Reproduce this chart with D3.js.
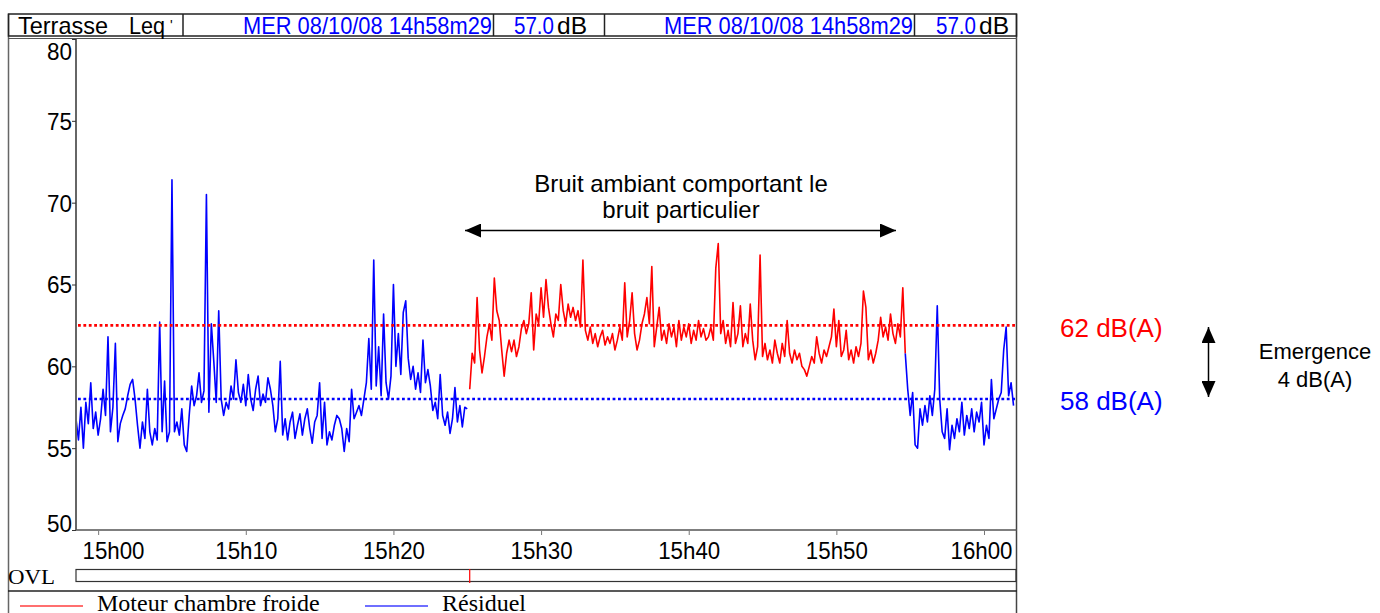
<!DOCTYPE html>
<html><head><meta charset="utf-8">
<script src="https://cdn.jsdelivr.net/npm/d3@7"></script>
<style>body{margin:0;background:#fff;overflow:hidden}</style>
</head><body>
<svg id="c" width="1380" height="613"></svg>
<script>
// ---------------- DATA (10 s sampling) ----------------
const residuel1 = [
56.8,55.5,57.5,55.0,57.8,56.5,59.0,56.2,57.2,55.8,
56.8,58.6,57.0,61.8,56.0,57.5,61.4,55.4,56.5,57.0,
57.4,58.2,58.9,59.2,58.0,56.4,55.0,56.6,55.6,58.6,
56.0,55.2,56.2,55.5,62.7,56.0,59.1,55.4,56.0,71.4,
56.0,56.6,55.8,57.4,55.2,54.8,57.0,58.8,57.6,58.2,
59.6,57.8,58.5,70.5,57.2,62.6,60.3,57.8,63.4,58.0,
57.0,57.8,57.4,58.8,58.0,60.4,58.4,57.8,58.9,57.6,
59.5,58.0,57.3,58.6,59.4,57.6,58.3,57.8,59.3,58.6,
57.6,56.0,56.8,60.3,55.8,56.8,55.5,56.6,57.2,55.6,
56.4,57.1,55.8,56.8,57.4,56.2,55.3,56.6,57.0,59.0,
55.6,57.8,55.2,56.0,55.5,56.4,57.0,56.8,56.2,54.8,
56.2,55.4,58.6,56.8,57.2,57.6,57.0,58.0,59.0,61.7,
58.6,66.5,58.8,61.2,58.2,63.2,59.0,58.0,59.4,65.0,
60.0,62.0,59.5,63.3,64.0,60.5,59.2,60.0,58.6,59.6,
58.4,61.6,59.0,59.8,58.8,57.3,57.8,56.8,59.5,57.0,
56.4,57.2,55.9,56.8,58.7,56.6,57.6,56.3,57.5,57.4];
const moteur = [
58.6,60.8,60.2,64.2,61.0,59.6,60.6,61.8,62.6,61.6,
65.4,63.4,62.8,61.0,59.4,60.8,61.6,60.9,61.6,60.6,
61.2,62.3,62.8,62.0,62.6,64.5,61.0,63.2,62.6,64.8,
63.0,65.3,63.6,62.6,61.8,63.2,62.8,65.0,63.4,62.6,
63.8,63.0,63.6,62.8,63.4,62.4,66.5,62.2,61.6,62.4,
61.4,62.0,61.2,61.8,62.2,61.3,61.8,61.4,62.0,61.0,
61.6,62.4,61.6,65.1,61.8,62.8,64.5,62.0,61.0,61.6,
62.6,63.2,64.2,62.6,66.1,61.2,62.4,63.6,61.6,62.2,
61.4,62.6,61.8,62.4,61.2,62.8,61.6,62.4,61.8,62.6,
61.4,62.2,61.6,62.8,61.8,62.3,61.6,61.8,62.4,61.6,
66.0,67.5,62.0,62.8,61.4,62.2,61.2,63.9,61.4,62.0,
63.7,61.2,62.0,61.4,63.8,61.6,60.4,61.2,66.8,60.6,
61.4,60.4,61.0,60.2,61.6,60.8,60.2,61.4,60.6,62.8,
60.8,60.2,61.0,60.4,60.8,60.0,59.8,59.4,60.0,60.6,
60.2,61.8,60.8,60.2,61.0,60.6,61.2,61.8,63.5,61.2,
62.8,60.6,61.0,62.2,60.4,61.0,60.2,61.2,60.6,61.4,
64.6,63.6,60.4,61.0,60.2,60.8,61.6,63.0,61.8,62.4,
61.6,63.2,62.0,61.4,62.6,61.8,64.8,60.8];
const residuel2 = [
60.8,58.6,57.0,58.4,55.2,55.0,57.4,56.4,57.6,56.6,
58.2,57.0,58.6,63.7,58.0,56.0,55.6,57.4,54.9,56.4,
55.6,56.8,56.0,57.8,55.8,57.0,56.2,57.4,56.0,57.2,
56.6,57.8,55.2,56.4,55.6,59.2,56.8,57.4,58.0,58.4,
61.0,62.4,58.2,59.0,57.6];
const seriesStarts = ["14:58:30", "15:25:10", "15:54:40"];
const stepSeconds = 10;
const timeDomain = ["14:58:30", "16:02:10"];
const yDomain = [50, 80];
const yTicks = [50, 55, 60, 65, 70, 75, 80];
const levelMoteur = 62.5;
const levelResiduel = 58;
const legendLabels = ["Moteur chambre froide", "Résiduel"];
const headerTitle = ["Terrasse", "Leq", "'"];
const headerDate = "MER 08/10/08 14h58m29";
const headerValue = "57.0";
const headerUnit = "dB";
const annotationLines = ["Bruit ambiant comportant le", "bruit particulier"];
const levelLabels = ["62 dB(A)", "58 dB(A)"];
const emergenceLines = ["Emergence", "4 dB(A)"];

// ---------------- CHART ----------------
const SANS = "'Liberation Sans', Arial, sans-serif";
const SERIF = "'Liberation Serif', 'Times New Roman', serif";
const svg = d3.select("#c");
const L = 76, R = 1016, T = 39, B = 530;
const parse = s => d3.timeParse("%Y-%m-%d %H:%M:%S")("2008-10-08 " + s);
const x = d3.scaleTime().domain(timeDomain.map(parse)).range([L, R]);
const y = d3.scaleLinear().domain(yDomain).range([B, T]);
const RED = "#ff0000", BLUE = "#0000ff";

const toSeries = (arr, start) => {
  const t0 = parse(start).getTime();
  return arr.map((v, i) => ({ t: new Date(t0 + i * stepSeconds * 1000), v }));
};

// frame
const frame = svg.append("g").attr("fill", "none");
frame.append("line").attr("x1", 8.5).attr("x2", 8.5).attr("y1", 14).attr("y2", 613).attr("stroke", "#666").attr("stroke-width", 1.5);
frame.append("line").attr("x1", 1016.5).attr("x2", 1016.5).attr("y1", 14).attr("y2", 613).attr("stroke", "#444").attr("stroke-width", 1.5);
frame.append("rect").attr("x", 8.5).attr("y", 14).attr("width", 1008).attr("height", 22).attr("stroke", "#222").attr("stroke-width", 1.5);
frame.append("line").attr("x1", 8).attr("x2", 1017).attr("y1", 38.5).attr("y2", 38.5).attr("stroke", "#555").attr("stroke-width", 1);
[183, 493.5, 604.5, 914.5].forEach(cx => frame.append("line").attr("x1", cx).attr("x2", cx).attr("y1", 14).attr("y2", 36).attr("stroke", "#222").attr("stroke-width", 1.5));

// header texts
const hdr = svg.append("g").attr("font-family", SANS).attr("font-size", 24);
const ht = (txt, xx, len, col) => hdr.append("text").attr("x", xx).attr("y", 34).attr("fill", col).attr("textLength", len).attr("lengthAdjust", "spacingAndGlyphs").text(txt);
ht(headerTitle[0], 18, 90, "#000");
ht(headerTitle[1], 129, 36, "#000");
hdr.append("text").attr("x", 170).attr("y", 30).attr("font-size", 14).text(headerTitle[2]);
ht(headerDate, 243, 249, BLUE);
ht(headerValue, 514, 40, BLUE);
ht(headerUnit, 557, 30, "#000");
ht(headerDate, 664, 249, BLUE);
ht(headerValue, 936, 40, BLUE);
ht(headerUnit, 979, 30, "#000");

// axes lines
svg.append("line").attr("x1", L).attr("x2", L).attr("y1", T).attr("y2", B).attr("stroke", "#333").attr("stroke-width", 1.5);
svg.append("line").attr("x1", L).attr("x2", 1017).attr("y1", B).attr("y2", B).attr("stroke", "#555").attr("stroke-width", 1.5);

// y axis
const ya = svg.append("g").attr("transform", `translate(${L},0)`)
  .call(d3.axisLeft(y).tickValues(yTicks).tickSize(4).tickPadding(0).tickFormat(d3.format("d")));
ya.select(".domain").remove();
ya.selectAll(".tick line").attr("stroke", "#333");
ya.selectAll("text").attr("font-family", SANS).attr("font-size", 24).attr("fill", "#000")
  .attr("textLength", 25).attr("lengthAdjust", "spacingAndGlyphs")
  .attr("dy", d => d === yDomain[1] ? "0.86em" : d === yDomain[0] ? "0.05em" : "0.35em");

// x axis
const xa = svg.append("g").attr("transform", `translate(0,${B})`)
  .call(d3.axisBottom(x).ticks(d3.timeMinute.every(10)).tickSize(4).tickPadding(8).tickFormat(d3.timeFormat("%Hh%M")));
xa.select(".domain").remove();
xa.selectAll(".tick line").attr("stroke", "#777").attr("transform", "translate(0,1)");
xa.selectAll("text").attr("font-family", SANS).attr("font-size", 24).attr("fill", "#000")
  .attr("y", 12).attr("textLength", 62).attr("lengthAdjust", "spacingAndGlyphs")
  .attr("dx", function () {
    const px = x(d3.select(this.parentNode).datum());
    if (px - 31 < L + 6) return (L + 6 - (px - 31));
    if (px + 31 > R - 4) return (R - 4 - (px + 31));
    return 0;
  });

// data lines
svg.append("clipPath").attr("id", "plot").append("rect").attr("x", L + 1).attr("y", T).attr("width", R - L - 1).attr("height", B - T);
const line = d3.line().x(d => x(d.t)).y(d => y(d.v));
const pg = svg.append("g").attr("clip-path", "url(#plot)").attr("fill", "none").attr("stroke-width", 1.6).attr("stroke-linejoin", "round");
pg.append("path").datum(toSeries(residuel1, seriesStarts[0])).attr("stroke", BLUE).attr("d", line);
pg.append("path").datum(toSeries(residuel2, seriesStarts[2])).attr("stroke", BLUE).attr("d", line);
pg.append("path").datum(toSeries(moteur, seriesStarts[1])).attr("stroke", RED).attr("d", line);

// dotted levels
[[levelMoteur, RED], [levelResiduel, BLUE]].forEach(([lv, c]) =>
  svg.append("line").attr("x1", L + 2).attr("x2", R).attr("y1", y(lv)).attr("y2", y(lv))
    .attr("stroke", c).attr("stroke-width", 2.6).attr("stroke-dasharray", "2.8,2.6"));

// arrowheads
const defs = svg.append("defs");
defs.append("marker").attr("id", "ah").attr("viewBox", "0 0 16 14").attr("refX", 16).attr("refY", 7)
  .attr("markerWidth", 16).attr("markerHeight", 14).attr("markerUnits", "userSpaceOnUse").attr("orient", "auto-start-reverse")
  .append("path").attr("d", "M0,0L16,7L0,14Z").attr("fill", "#000");

// annotation in plot
const tStartRed = parse(seriesStarts[1]);
svg.append("line").attr("x1", 465).attr("x2", 896).attr("y1", 230.5).attr("y2", 230.5)
  .attr("stroke", "#000").attr("stroke-width", 1.5).attr("marker-start", "url(#ah)").attr("marker-end", "url(#ah)");
annotationLines.forEach((s, i) => svg.append("text").attr("x", 681).attr("y", 192 + i * 26)
  .attr("text-anchor", "middle").attr("font-family", SANS).attr("font-size", 24).text(s));

// right annotations
svg.append("text").attr("x", 1060).attr("y", 337).attr("font-family", SANS).attr("font-size", 26).attr("fill", RED).text(levelLabels[0]);
svg.append("text").attr("x", 1060).attr("y", 410).attr("font-family", SANS).attr("font-size", 26).attr("fill", BLUE).text(levelLabels[1]);
svg.append("line").attr("x1", 1208.5).attr("x2", 1208.5).attr("y1", 327).attr("y2", 397)
  .attr("stroke", "#000").attr("stroke-width", 1.5).attr("marker-start", "url(#ah)").attr("marker-end", "url(#ah)");
emergenceLines.forEach((s, i) => svg.append("text").attr("x", 1315).attr("y", 359 + i * 28)
  .attr("text-anchor", "middle").attr("font-family", SANS).attr("font-size", 22).text(s));

// OVL row
svg.append("text").attr("x", 8).attr("y", 584).attr("font-family", SERIF).attr("font-size", 22).attr("textLength", 47).attr("lengthAdjust", "spacingAndGlyphs").text("OVL");
svg.append("rect").attr("x", L).attr("y", 569.5).attr("width", R - L).attr("height", 12).attr("fill", "none").attr("stroke", "#333").attr("stroke-width", 1.2);
svg.append("line").attr("x1", x(tStartRed)).attr("x2", x(tStartRed)).attr("y1", 569).attr("y2", 583).attr("stroke", RED).attr("stroke-width", 1.2);
svg.append("line").attr("x1", 8).attr("x2", 1017).attr("y1", 591).attr("y2", 591).attr("stroke", "#222").attr("stroke-width", 1.5);

// legend
const lg = svg.append("g");
[[20, 97, RED, legendLabels[0]], [365, 442, BLUE, legendLabels[1]]].forEach(([lx, tx, c, s]) => {
  lg.append("line").attr("x1", lx).attr("x2", lx + 63).attr("y1", 606).attr("y2", 606).attr("stroke", c).attr("stroke-width", 1.3).attr("opacity", 0.75);
  lg.append("text").attr("x", tx).attr("y", 611).attr("font-family", SERIF).attr("font-size", 24).text(s);
});
</script>
</body></html>
